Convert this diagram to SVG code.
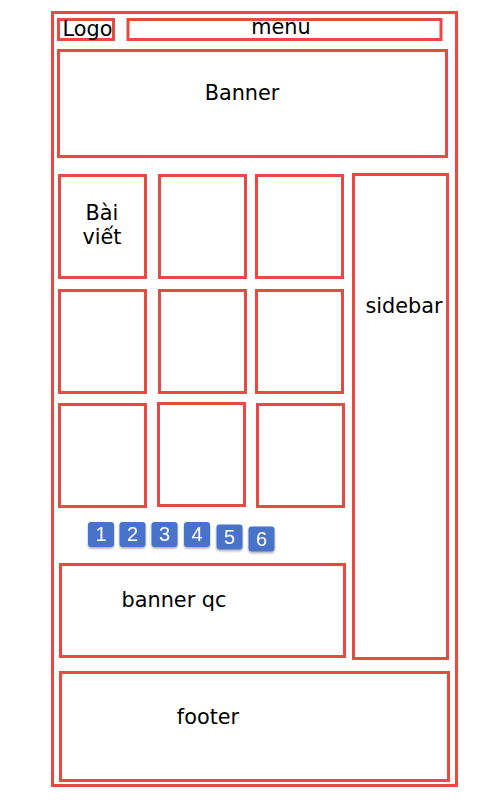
<svg xmlns="http://www.w3.org/2000/svg" width="500" height="800" viewBox="0 0 500 800">
<style>
.box{fill:#fff;stroke:#e84a43;stroke-width:3}
.t{font-family:"DejaVu Sans",sans-serif;font-size:20.8px;fill:#000;text-anchor:middle}
.btn{fill:#4a73c9}
.n{font-family:"Liberation Sans",Arial,sans-serif;font-size:20px;fill:#fff;text-anchor:middle}
</style>
<defs>
<filter id="sh" x="-20%" y="-20%" width="140%" height="150%">
<feDropShadow dx="0" dy="1.5" stdDeviation="1" flood-color="#000" flood-opacity="0.35"/>
</filter>
</defs>
<rect width="500" height="800" fill="#fff"/>
<g id="page"><rect class="box" x="52.5" y="12.5" width="404" height="773"/></g>
<g id="logo"><rect class="box" x="58.5" y="19.5" width="55" height="20"/><text class="t" x="87.5" y="36">Logo</text></g>
<g id="menu"><rect class="box" x="128" y="19.5" width="313" height="20"/><text class="t" x="281" y="34">menu</text></g>
<g id="banner"><rect class="box" x="58.5" y="50.5" width="388" height="106"/><text class="t" x="242" y="100">Banner</text></g>
<g id="post1"><rect class="box" x="59.5" y="175.5" width="86" height="102"/><text class="t" x="102" y="220">Bài</text><text class="t" x="102" y="244">viết</text></g>
<g id="post2"><rect class="box" x="159.5" y="175.5" width="86" height="102"/></g>
<g id="post3"><rect class="box" x="256.5" y="175.5" width="86" height="102"/></g>
<g id="post4"><rect class="box" x="59.5" y="290.5" width="86" height="102"/></g>
<g id="post5"><rect class="box" x="159.5" y="290.5" width="86" height="102"/></g>
<g id="post6"><rect class="box" x="256.5" y="290.5" width="86" height="102"/></g>
<g id="post7"><rect class="box" x="59.5" y="404.5" width="86" height="102"/></g>
<g id="post8"><rect class="box" x="158.5" y="403.5" width="86" height="102"/></g>
<g id="post9"><rect class="box" x="257.5" y="404.5" width="86" height="102"/></g>
<g id="sidebar"><rect class="box" x="353.5" y="174.5" width="94" height="484"/><text class="t" x="404" y="313">sidebar</text></g>
<g id="pagination" filter="url(#sh)">
<rect class="btn" x="88" y="522" width="26" height="25" rx="3"/><text class="n" x="101" y="541">1</text>
<rect class="btn" x="119.5" y="522" width="26" height="25" rx="3"/><text class="n" x="132.5" y="541">2</text>
<rect class="btn" x="151.5" y="522" width="26" height="25" rx="3"/><text class="n" x="164.5" y="541">3</text>
<rect class="btn" x="184" y="522" width="26" height="25" rx="3"/><text class="n" x="197" y="541">4</text>
<rect class="btn" x="216.5" y="524.5" width="26" height="25" rx="3"/><text class="n" x="229.5" y="544">5</text>
<rect class="btn" x="248.5" y="526.5" width="26" height="25" rx="3"/><text class="n" x="261.5" y="546">6</text>
</g>
<g id="banner-qc"><rect class="box" x="60.5" y="564.5" width="284" height="92"/><text class="t" x="174" y="607">banner qc</text></g>
<g id="footer"><rect class="box" x="60.5" y="672.5" width="388" height="108"/><text class="t" x="208" y="724">footer</text></g>
</svg>
